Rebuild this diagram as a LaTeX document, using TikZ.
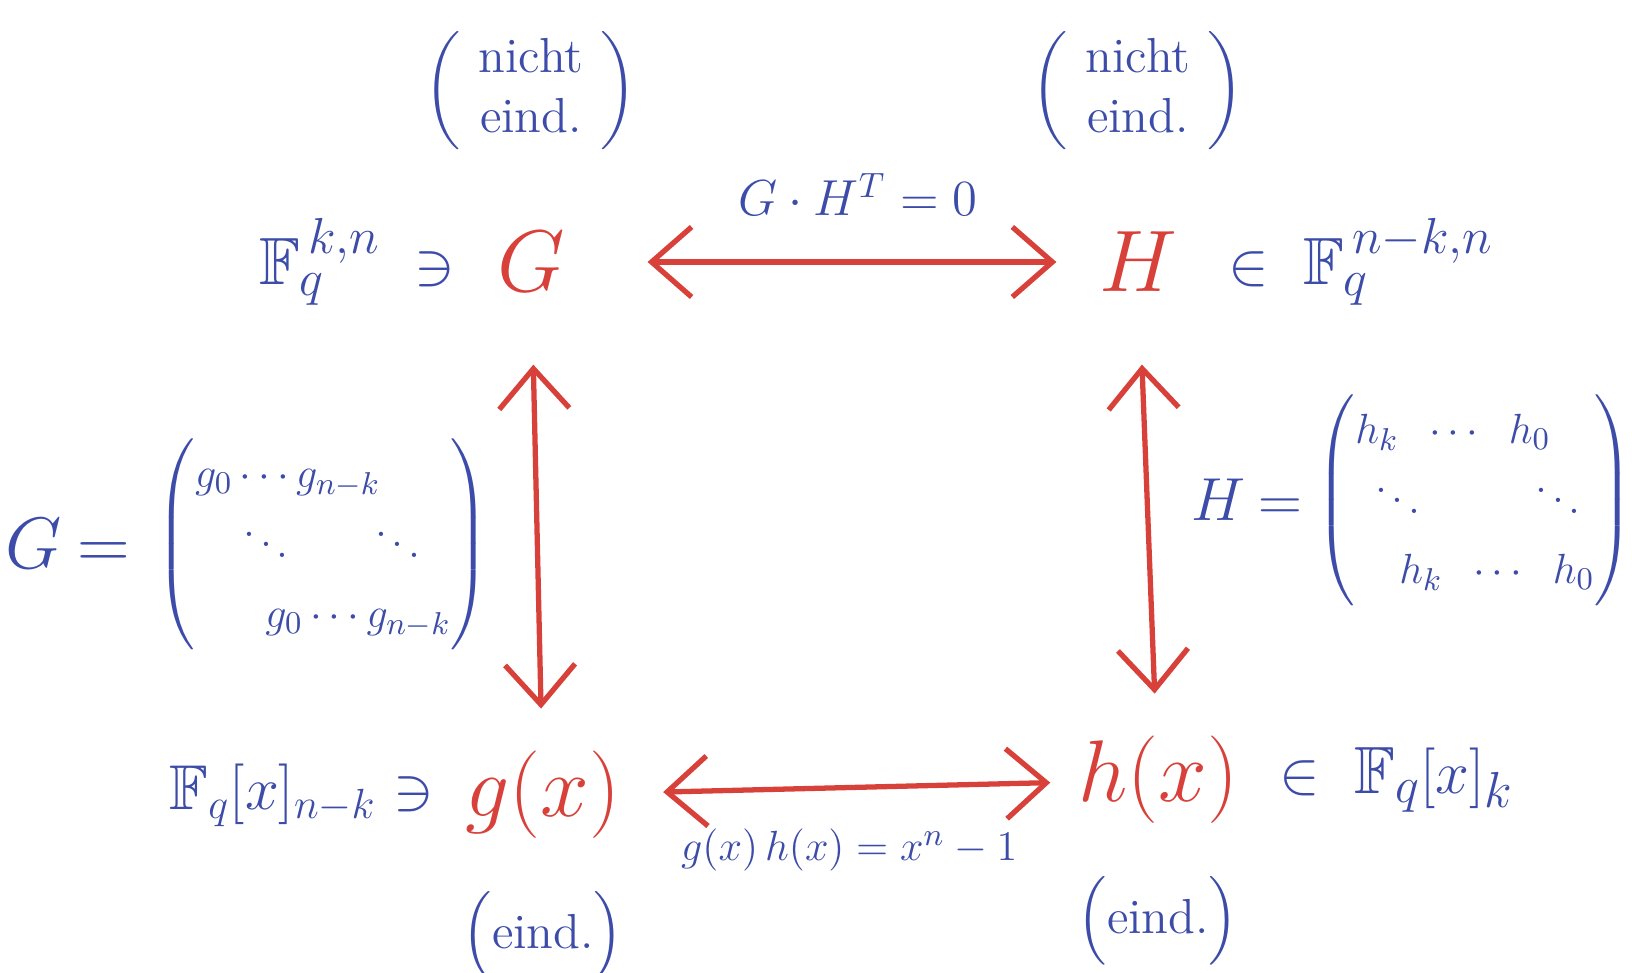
\documentclass[tikz,border=0pt]{standalone}
\usepackage{amsmath,amssymb}
\usepackage{xcolor}
\usetikzlibrary{arrows.meta,positioning}
\definecolor{inkred}{HTML}{D8403A}
\definecolor{inkblue}{HTML}{3C4CA8}

\begin{document}
\begin{tikzpicture}[x=0.01cm, y=-0.01cm,
  main/.style={text=inkred, font=\fontsize{34}{40}\selectfont, inner sep=2pt},
  poly/.style={text=inkred, font=\fontsize{24}{29}\selectfont, inner sep=2pt},
  note/.style={text=inkblue, font=\fontsize{19}{23}\selectfont, inner sep=1pt},
  small/.style={text=inkblue, font=\fontsize{14}{17}\selectfont, inner sep=1pt},
  mat/.style={text=inkblue, font=\fontsize{12.5}{19}\selectfont, inner sep=1pt},
  arr/.style={{Straight Barb[length=4mm,width=7mm]}-{Straight Barb[length=4mm,width=7mm]}, line width=1.5pt, inkred, shorten <=5.5mm, shorten >=5.5mm}
]
\useasboundingbox (0,0) rectangle (1632,973);
\node[main] (G) at (531,262) {$G$};
\node[main] (H) at (1138,262) {$H$};
\node[poly] (gx) at (543,795) {$g(x)$};
\node[poly] (hx) at (1158,780) {$h(x)$};
\node[note, left=0.3cm of G] (Gset) {$\mathbb{F}_q^{\,k,n}\;\ni$};
\node[note, right=0.4cm of H] (Hset) {$\in\;\mathbb{F}_q^{\,n-k,n}$};
\node[note, font=\fontsize{18}{22}\selectfont, left=0.2cm of gx] (gxset) {$\mathbb{F}_q[x]_{n-k}\ni$};
\node[note, right=0.3cm of hx] (hxset) {$\in\;\mathbb{F}_q[x]_k$};
\node[small, above=0.7cm of G] (Gnote) {$\left(\begin{array}{c}\text{nicht}\\ \text{eind.}\end{array}\right)$};
\node[small, above=0.7cm of H] (Hnote) {$\left(\begin{array}{c}\text{nicht}\\ \text{eind.}\end{array}\right)$};
\node[small, below=0.4cm of gx] (gxnote) {$\Bigl(\text{eind.}\Bigr)$};
\node[small, below=0.4cm of hx] (hxnote) {$\Bigl(\text{eind.}\Bigr)$};
\node[mat] (Gmat) at (323,544) {$\left(\begin{array}{@{}l@{}} g_0\cdots g_{n-k}\\ \hspace{1.05em}\ddots\hspace{1.7em}\ddots\\ \hspace{1.6em}g_0\cdots g_{n-k}\end{array}\right)$};
\node[note, font=\fontsize{20}{24}\selectfont, left=0.18cm of Gmat] (Geq) {$G\mkern4mu{=}$};
\node[mat] (Hmat) at (1475,500) {$\left(\begin{array}{@{}l@{}} h_k\;\;\cdots\;\;h_0\\ \hspace{0.4em}\ddots\hspace{2.35em}\ddots\\ \hspace{1em}h_k\;\;\cdots\;\;h_0\end{array}\right)$};
\node[note, left=0.06cm of Hmat] (Heq) {$H\mkern4mu{=}$};
\draw[arr, shorten <=7.5mm, shorten >=3.5mm] (G) -- node[small, pos=0.55, above=0.4cm] (orth) {$G\cdot H^T=0$} (H);
\draw[arr, shorten <=3.5mm, shorten >=2mm] (gx) -- node[small, font=\fontsize{13}{16}\selectfont, below=0.35cm] (prod) {$g(x)\,h(x)=x^n-1$} (hx);
\draw[arr, shorten <=6.5mm, shorten >=3.5mm] (G) -- (gx);
\draw[arr, shorten <=6.5mm, shorten >=3.5mm] (H) -- (hx);
\end{tikzpicture}
\end{document}
